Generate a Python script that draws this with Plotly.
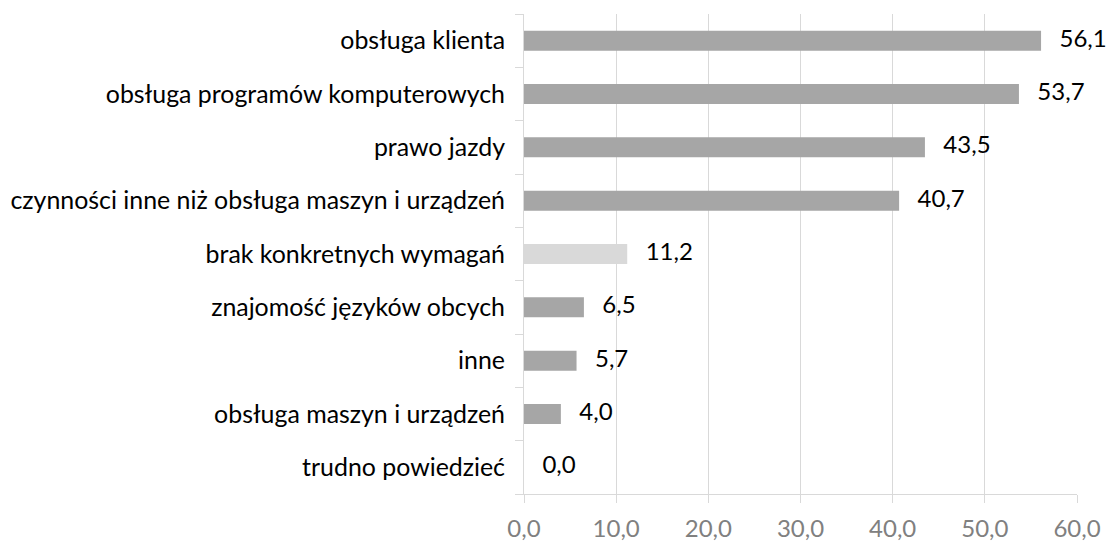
import plotly.graph_objects as go

categories = [
    "obsługa klienta",
    "obsługa programów komputerowych",
    "prawo jazdy",
    "czynności inne niż obsługa maszyn i urządzeń",
    "brak konkretnych wymagań",
    "znajomość języków obcych",
    "inne",
    "obsługa maszyn i urządzeń",
    "trudno powiedzieć",
]
values = [56.1, 53.7, 43.5, 40.7, 11.2, 6.5, 5.7, 4.0, 0.0]
highlight = "brak konkretnych wymagań"
tick_vals = [0, 10, 20, 30, 40, 50, 60]

colors = ["#d9d9d9" if c == highlight else "#a6a6a6" for c in categories]
FONT = "Lato, Open Sans, sans-serif"

fig = go.Figure()
fig.add_trace(go.Bar(
    x=values,
    y=categories,
    orientation="h",
    marker=dict(color=colors, line=dict(width=0)),
    hoverinfo="skip",
))
fig.add_trace(go.Scatter(
    x=values,
    y=categories,
    mode="text",
    texttemplate="\u00a0\u00a0\u00a0%{x:.1f}",
    textposition="middle right",
    textfont=dict(size=24, color="#000000", family=FONT),
    cliponaxis=False,
    hoverinfo="skip",
))

fig.update_layout(
    width=1109, height=544,
    margin=dict(l=524, r=32, t=14, b=50),
    plot_bgcolor="white", paper_bgcolor="white",
    separators=", ",
    bargap=0.625,
    showlegend=False,
    font=dict(family=FONT, size=25, color="#000000"),
)
fig.update_xaxes(
    range=[0, 60], tickvals=tick_vals, tickformat=".1f",
    showgrid=True, gridcolor="#d9d9d9", gridwidth=1,
    showline=True, linecolor="#d9d9d9", linewidth=1,
    ticks="outside", ticklen=8, tickcolor="#d9d9d9",
    tickfont=dict(size=24, color="#808080", family=FONT),
    ticklabelstandoff=5,
    zeroline=False, automargin=False,
)
fig.update_yaxes(
    categoryorder="array", categoryarray=categories[::-1],
    showline=True, linecolor="#d9d9d9", linewidth=1,
    ticks="outside", ticklen=8, tickcolor="#d9d9d9", tickson="boundaries",
    tickfont=dict(size=24.9, color="#000000", family=FONT),
    ticklabelstandoff=13, automargin=False,
)

fig.write_html(
    "out.html",
    config={"displayModeBar": False},
    post_script="document.body.style.margin='0';document.body.style.padding='0';",
)
